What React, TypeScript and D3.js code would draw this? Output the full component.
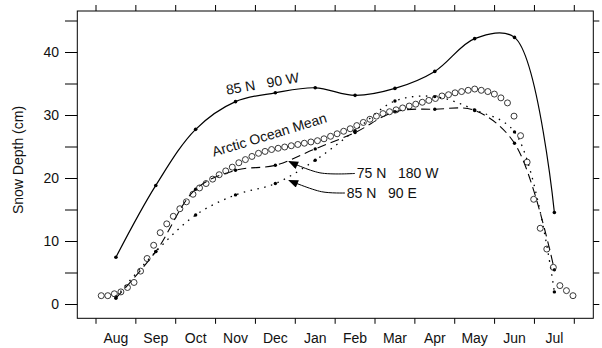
import React from 'react';
import * as d3 from 'd3';

const months = ['Aug', 'Sep', 'Oct', 'Nov', 'Dec', 'Jan', 'Feb', 'Mar', 'Apr', 'May', 'Jun', 'Jul'];
const site85N90W = [7.5, 18.9, 27.8, 32.2, 33.6, 34.4, 33.2, 34.3, 37.0, 42.2, 42.4, 14.6];
const site75N180W = [1.0, 8.4, 18.3, 21.3, 22.1, 24.7, 27.3, 30.6, 31.0, 30.8, 25.6, 5.5];
const site85N90E = [1.2, 8.4, 14.2, 17.4, 19.2, 22.9, 27.6, 32.3, 33.0, 30.9, 27.4, 2.0];

const meanDays = [
  4, 9, 14, 19, 24, 29, 34, 39, 44, 49, 54, 59, 64, 69, 74, 79, 84, 89, 94, 99,
  104, 109, 114, 119, 124, 129, 134, 139, 144, 149, 154, 159, 164, 169, 174, 179,
  184, 189, 194, 199, 204, 209, 214, 219, 224, 229, 234, 239, 244, 249, 254, 259,
  264, 269, 274, 279, 284, 289, 294, 299, 304, 309, 314, 319, 324, 329, 334, 339,
  344, 349, 354, 359, 364,
];
const meanDepth = [
  1.4, 1.4, 1.7, 2.0, 2.7, 3.5, 5.3, 7.3, 9.4, 11.4, 12.8, 14.0, 15.2, 16.3, 17.5,
  18.5, 19.2, 19.9, 20.6, 21.2, 21.8, 22.5, 23.0, 23.5, 24.0, 24.3, 24.6, 24.8,
  25.0, 25.2, 25.4, 25.6, 25.8, 26.0, 26.3, 26.7, 27.1, 27.5, 27.9, 28.4, 28.9,
  29.4, 29.9, 30.3, 30.6, 30.9, 31.2, 31.5, 31.8, 32.1, 32.4, 32.7, 33.1, 33.3,
  33.6, 33.8, 34.0, 34.2, 34.0, 33.8, 33.4, 32.8, 32.0, 29.9, 26.8, 22.6, 16.7,
  12.1, 8.8, 5.9, 3.0, 2.2, 1.4,
];

const yTicks = [0, 10, 20, 30, 40];
const yAllTicks = [0, 5, 10, 15, 20, 25, 30, 35, 40, 45];

// annotation anchors in data space: [day, cm]
const arrow75 = [[197.6, 20.8], [170.9, 20.9], [147.3, 22.7]];
const arrow85E = [[190.0, 17.7], [172.2, 17.9], [147.3, 19.7]];

const W = 602;
const H = 348;
const frame = { left: 77.3, right: 593.3, top: 11, bottom: 318.3 };
const font = '"Liberation Sans", Arial, Helvetica, sans-serif';

export default function App() {
  const x = d3.scaleLinear().domain([0, 365]).range([96, 574.3]);
  const y = d3.scaleLinear().domain([0, 40]).range([304.5, 52.5]);
  const monthLen = 365 / 12;
  const bounds = d3.range(13).map((i) => i * monthLen);
  const mids = months.map((_, i) => (i + 0.5) * monthLen);

  const line = d3
    .line<[number, number]>()
    .x((d) => x(d[0]))
    .y((d) => y(d[1]))
    .curve(d3.curveCatmullRom.alpha(0.5));

  const arrowLine = d3
    .line<number[]>()
    .x((d) => x(d[0]))
    .y((d) => y(d[1]))
    .curve(d3.curveCatmullRom.alpha(0.5));

  const ser = (vals: number[]) => vals.map((v, i) => [mids[i], v] as [number, number]);

  const label = (day: number, v: number) => [x(day), y(v)];
  const [l1x, l1y] = label(127.7, 34.3);
  const [l2x, l2y] = label(133.4, 26.2);
  const [l3x, l3y] = label(199, 20.1);
  const [l4x, l4y] = label(191.3, 16.9);

  return (
    <svg width={W} height={H} style={{ position: 'absolute', left: 0, top: 0, background: '#fff' }} fontFamily={font}>
      <defs>
        <marker id="ah" viewBox="0 0 10 8" refX="9" refY="4" markerWidth="11" markerHeight="8" markerUnits="userSpaceOnUse" orient="auto">
          <path d="M0,0 L10,4 L0,8 Z" fill="#000" />
        </marker>
      </defs>
      <rect x={0} y={0} width={W} height={H} fill="#fff" />
      {/* frame */}
      <rect x={frame.left} y={frame.top} width={frame.right - frame.left} height={frame.bottom - frame.top} fill="none" stroke="#000" strokeWidth={1} />
      {/* left ticks */}
      {yAllTicks.map((t) => (
        <line key={'l' + t} x1={65} x2={frame.left} y1={y(t)} y2={y(t)} stroke="#000" strokeWidth={1} />
      ))}
      {/* right ticks */}
      {yAllTicks.map((t) => (
        <line key={'r' + t} x1={frame.right} x2={frame.right + 6} y1={y(t)} y2={y(t)} stroke="#000" strokeWidth={1} />
      ))}
      {yTicks.map((t) => (
        <text key={'yl' + t} x={59} y={y(t)} dy="0.35em" textAnchor="end" fontSize={14} fill="#111">
          {t}
        </text>
      ))}
      <text transform={`translate(18,160) rotate(-90)`} textAnchor="middle" dy="0.35em" fontSize={14} fill="#111">
        Snow Depth (cm)
      </text>
      {/* top & bottom ticks */}
      {bounds.map((b, i) => (
        <g key={'b' + i}>
          <line x1={x(b)} x2={x(b)} y1={frame.top - 6} y2={frame.top} stroke="#000" strokeWidth={1} />
          <line x1={x(b)} x2={x(b)} y1={frame.bottom} y2={frame.bottom + 5.5} stroke="#000" strokeWidth={1} />
        </g>
      ))}
      {months.map((m, i) => (
        <text key={m} x={x(mids[i])} y={343} textAnchor="middle" fontSize={14} fill="#111">
          {m}
        </text>
      ))}

      {/* 85N 90W solid */}
      <path d={line(ser(site85N90W)) || ''} fill="none" stroke="#000" strokeWidth={1.2} />
      {site85N90W.map((v, i) => (
        <circle key={'a' + i} cx={x(mids[i])} cy={y(v)} r={1.8} fill="#000" />
      ))}
      {/* 75N 180W long dash */}
      <path d={line(ser(site75N180W)) || ''} fill="none" stroke="#000" strokeWidth={1.1} strokeDasharray="9,5" />
      {site75N180W.map((v, i) => (
        <circle key={'b' + i} cx={x(mids[i])} cy={y(v)} r={1.7} fill="#000" />
      ))}
      {/* 85N 90E dotted */}
      <path d={line(ser(site85N90E)) || ''} fill="none" stroke="#000" strokeWidth={1.3} strokeDasharray="1.5,5.5" />
      {site85N90E.map((v, i) => (
        <circle key={'c' + i} cx={x(mids[i])} cy={y(v)} r={1.7} fill="#000" />
      ))}
      {/* Arctic Ocean Mean circles */}
      {meanDepth.map((v, i) => (
        <circle key={'m' + i} cx={x(meanDays[i])} cy={y(v)} r={3} fill="none" stroke="#222" strokeWidth={0.9} />
      ))}

      {/* labels */}
      <text x={l1x} y={l1y} transform={`rotate(-10 ${l1x} ${l1y})`} textAnchor="middle" fontSize={14} fill="#111" style={{ whiteSpace: 'pre' }}>
        {'85 N   90 W'}
      </text>
      <text x={l2x} y={l2y} transform={`rotate(-17 ${l2x} ${l2y})`} textAnchor="middle" fontSize={14} fill="#111">
        Arctic Ocean Mean
      </text>
      <text x={l3x} y={l3y} fontSize={14} fill="#111" style={{ whiteSpace: 'pre' }}>
        {'75 N   180 W'}
      </text>
      <text x={l4x} y={l4y} fontSize={14} fill="#111" style={{ whiteSpace: 'pre' }}>
        {'85 N   90 E'}
      </text>
      <path d={arrowLine(arrow75) || ''} fill="none" stroke="#000" strokeWidth={1} markerEnd="url(#ah)" />
      <path d={arrowLine(arrow85E) || ''} fill="none" stroke="#000" strokeWidth={1} markerEnd="url(#ah)" />
    </svg>
  );
}
